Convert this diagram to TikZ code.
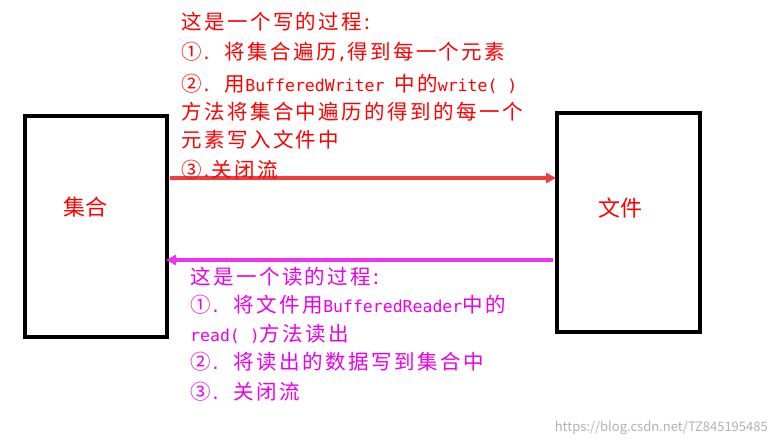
\documentclass[tikz,border=0pt]{standalone}
\usepackage{fontspec}
\setmainfont[LetterSpace=12]{Noto Sans CJK SC}
\newfontfamily\plainf{Noto Sans CJK SC}
\newfontfamily\monof{DejaVu Sans Mono}
\newcommand{\mf}[1]{{\monof\fontsize{16.5}{16.5}\selectfont #1}}
\usetikzlibrary{arrows.meta}
\definecolor{tred}{RGB}{255,0,0}
\definecolor{tmag}{RGB}{235,0,235}
\definecolor{ared}{RGB}{240,60,60}
\definecolor{amag}{RGB}{240,50,240}
\tikzset{box/.style={draw,line width=3.5pt},
 txt/.style={anchor=west,inner sep=0pt,font=\fontsize{20.5}{20.5}\selectfont},
 big/.style={tred,font=\plainf\fontsize{22}{22}\selectfont}}
\begin{document}
\begin{tikzpicture}[x=1pt,y=-1pt]
\useasboundingbox[fill=white] (0,0) rectangle (778,447);
\node[box,minimum width=142pt,minimum height=221pt] (set) at (96,226.5) {};
\node[box,minimum width=143pt,minimum height=219pt] (file) at (628.5,222.5) {};
\node[big] at (85,207) {集合};
\node[big] at (620,208) {文件};
\coordinate (a1) at (170,178);
\coordinate (a2) at (556,178);
\draw[gray,line width=0.5pt] (a1) -- (300,178);
\draw[ared,line width=4pt,-{Triangle[length=10pt,width=10pt]}] (a1) -- (a2);
\coordinate (b1) at (553,260);
\coordinate (b2) at (166,260);
\draw[amag,line width=3.5pt,-{Triangle[length=10pt,width=10pt]}] (b1) -- (b2);
\begin{scope}[tred]
\node[txt] at (181,22) {这是一个写的过程:};
\node[txt] at (181,52) {①\mf{. }将集合遍历\mf{,}得到每一个元素};
\node[txt] at (181,84) {②\mf{. }用\mf{BufferedWriter }中的\mf{write( )}};
\node[txt] at (181,112) {方法将集合中遍历的得到的每一个};
\node[txt] at (181,140) {元素写入文件中};
\node[txt] at (181,170) {③\mf{.}关闭流};
\end{scope}
\begin{scope}[tmag]
\node[txt] at (190,277) {这是一个读的过程:};
\node[txt] at (190,305) {①\mf{. }将文件用\mf{BufferedReader}中的};
\node[txt] at (190,334) {\mf{read( )}方法读出};
\node[txt] at (190,362) {②\mf{. }将读出的数据写到集合中};
\node[txt] at (190,392) {③\mf{. }关闭流};
\end{scope}
\node[anchor=east,gray!60,font=\plainf\fontsize{13}{13}\selectfont,inner sep=0pt] at (768,428) {https://blog.csdn.net/TZ845195485};
\end{tikzpicture}
\end{document}
